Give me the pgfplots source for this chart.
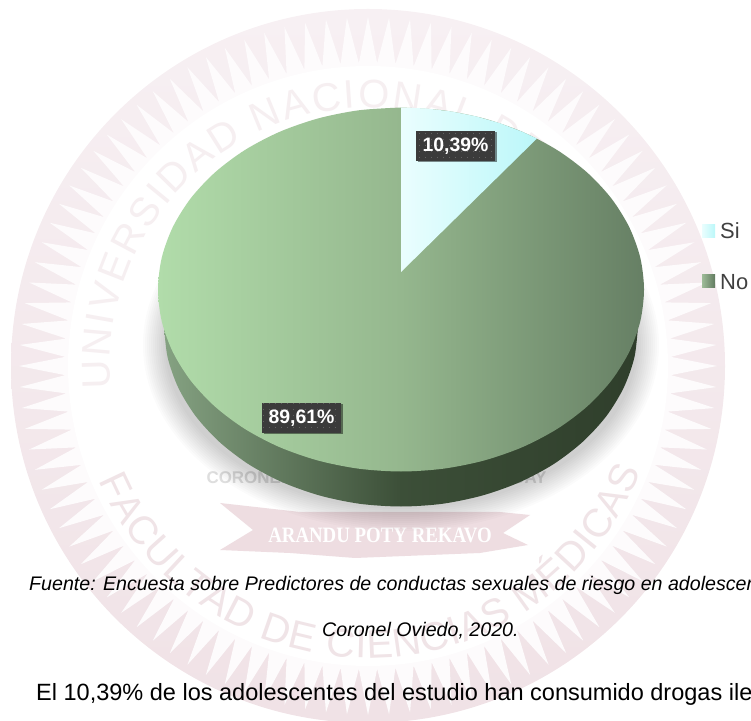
\documentclass[border=0pt]{standalone}
\usepackage{fontspec}
\setmainfont{Liberation Sans}
\newfontfamily\serifwm{Liberation Serif}
\usepackage{pgfplots}
\pgfplotsset{compat=1.18}
\usetikzlibrary{decorations.text,shadows,patterns.meta}
\definecolor{wmT}{HTML}{F7F0F3}
\definecolor{wmB}{HTML}{F0E2E6}
\definecolor{wmtextT}{HTML}{F6EFF1}
\definecolor{wmtextB}{HTML}{F0E4E7}
\definecolor{tooth}{HTML}{FDFBFC}
\definecolor{wmband}{HTML}{EEDDE1}
\definecolor{lab}{HTML}{3B3B3B}
\definecolor{sideL}{HTML}{85A282}
\definecolor{sideM}{HTML}{3C4F38}
\definecolor{sideR}{HTML}{2F3E2B}
\definecolor{noL}{HTML}{B1DCAA}
\definecolor{noM}{HTML}{95B78E}
\definecolor{noR}{HTML}{667F64}
\definecolor{siL}{HTML}{EAFEFE}
\definecolor{siR}{HTML}{BBF7F9}
\definecolor{lgNoL}{HTML}{9EBC98}
\definecolor{lgNoR}{HTML}{627B60}
\tikzset{vlab/.style={fill=lab,text=white,inner sep=0pt,minimum width=79bp,minimum height=30bp,
  drop shadow={shadow xshift=1.5bp,shadow yshift=-1.5bp,fill=black,opacity=.45},
  }}
\begin{document}
\begin{tikzpicture}[x=1bp,y=1bp]
\path[use as bounding box,clip] (0,0) rectangle (751,721);
% watermark
\begin{scope}[shift={(368,355)}]
\shade[top color=wmT,bottom color=wmB] (0,0) circle (357);
\fill[tooth] (90:349) \foreach \i in {0,...,103} { -- ({90-\i*3.4615-1.7308}:303) -- ({90-(\i+1)*3.4615}:349) } -- cycle;
\fill[white] (0,0) circle (300);
\path[decorate,decoration={text along path,text align=fit to path,
  text={|\fontsize{40}{40}\selectfont\color{wmtextT}|UNIVERSIDAD NACIONAL DE}}] (185:258) arc (185:50:258);
\path[decorate,decoration={text along path,text align=fit to path,
  text={|\fontsize{40}{40}\selectfont\color{wmtextB}|FACULTAD DE CIENCIAS MÉDICAS}}] (203:292) arc (203:339:292);
\end{scope}
\fill[wmband] (220,218) -- (300,209) -- (500,209) -- (530,206) -- (503,188) -- (528,176) -- (480,168) -- (355,163) -- (290,168) -- (220,171) -- (253,191) -- cycle;
\node[text=white,font=\serifwm\bfseries\fontsize{22}{22}\selectfont,xscale=.86] at (380,186) {ARANDU POTY REKAVO};
\node[anchor=west,text=black!13,font=\bfseries\fontsize{17}{17}\selectfont] at (203,243) {CORONEL};
\node[anchor=east,text=black!13,font=\bfseries\fontsize{17}{17}\selectfont] at (550,243) {PARAGUAY};
% pie shadow
\foreach \k in {0,...,11} \fill[black,opacity=.016] (401,376) ellipse ({258-\k*2} and {186-\k*2});
\begin{axis}[at={(0,0)},anchor=south west,scale only axis,width=751bp,height=721bp,
  xmin=0,xmax=751,ymin=0,ymax=721,y dir=reverse,hide axis,clip=false]
% side wall
\addplot[draw=none,left color=sideL,right color=sideR,middle color=sideM,forget plot,smooth]
 coordinates {(638,326)(634.4,357.3)(623.7,387.7)(606.2,416.3)(582.5,442)(553.3,464.3)(519.5,482.3)(482,495.6)(442.2,503.8)(401,506.5)(359.8,503.8)(320,495.6)(282.5,482.3)(248.7,464.3)(219.5,442)(195.8,416.3)(178.3,387.7)(167.6,357.3)(164,326)};
% No: top surface
\addplot[draw=none,left color=noL,right color=noR,middle color=noM,forget plot,smooth]
 coordinates {(401,107.5)(443.2,110.3)(484.1,118.5)(522.5,131.9)(557.2,150.1)(587.1,172.5)(611.4,198.5)(629.3,227.3)(640.3,257.9)(644,289.5)(640.3,321.1)(629.3,351.7)(611.4,380.5)(587.1,406.5)(557.2,428.9)(522.5,447.1)(484.1,460.5)(443.2,468.7)(401,471.5)(358.8,468.7)(317.9,460.5)(279.5,447.1)(244.8,428.9)(214.9,406.5)(190.6,380.5)(172.7,351.7)(161.7,321.1)(158,289.5)(161.7,257.9)(172.7,227.3)(190.6,198.5)(214.9,172.5)(244.8,150.1)(279.5,131.9)(317.9,118.5)(358.8,110.3)(401,107.5)};
% Si slice
\addplot[draw=none,left color=siL,right color=siR,forget plot]
 coordinates {(401,272)(401,107.5)(426.4,108.5)(451.5,111.5)(476.1,116.4)(499.8,123.2)(522.5,131.9)(536.9,138.6)(401,272)};
% legend swatches
\addplot[draw=none,left color=siL,right color=siR,forget plot]
 coordinates {(702,225)(715,225)(715,238)(702,238)(702,225)};
\addplot[draw=none,left color=lgNoL,right color=lgNoR,forget plot]
 coordinates {(702,275)(715,275)(715,288)(702,288)(702,275)};
\node[anchor=west,inner sep=0pt,text=black!75,font=\fontsize{22}{22}\selectfont] at (axis cs:720,231) {Si};
\node[anchor=west,inner sep=0pt,text=black!75,font=\fontsize{22}{22}\selectfont] at (axis cs:720,282) {No};
% labels
\node[vlab,postaction={pattern={Dots[distance=6bp,radius=.45bp]},pattern color=white!35!lab}] at (axis cs:455.5,146) {};
\node[text=white,inner sep=0pt,font=\bfseries\fontsize{19.5}{19.5}\selectfont] at (axis cs:455.5,146) {10,39\%};
\node[vlab,postaction={pattern={Dots[distance=6bp,radius=.45bp]},pattern color=white!35!lab}] at (axis cs:301.5,418) {};
\node[text=white,inner sep=0pt,font=\bfseries\fontsize{19.5}{19.5}\selectfont] at (axis cs:301.5,418) {89,61\%};
% text
\node[anchor=base west,inner sep=0pt,font=\itshape\fontsize{19.7}{19.7}\selectfont] at (axis cs:29,590) {Fuente: Encuesta sobre Predictores de conductas sexuales de riesgo en adolescentes};
\node[anchor=base west,inner sep=0pt,font=\itshape\fontsize{19.7}{19.7}\selectfont] at (axis cs:322,636) {Coronel Oviedo, 2020.};
\node[anchor=base west,inner sep=0pt,font=\fontsize{23.6}{23.6}\selectfont] at (axis cs:36,700) {El 10,39\% de los adolescentes del estudio han consumido drogas ilegales};
\end{axis}
\end{tikzpicture}
\end{document}
